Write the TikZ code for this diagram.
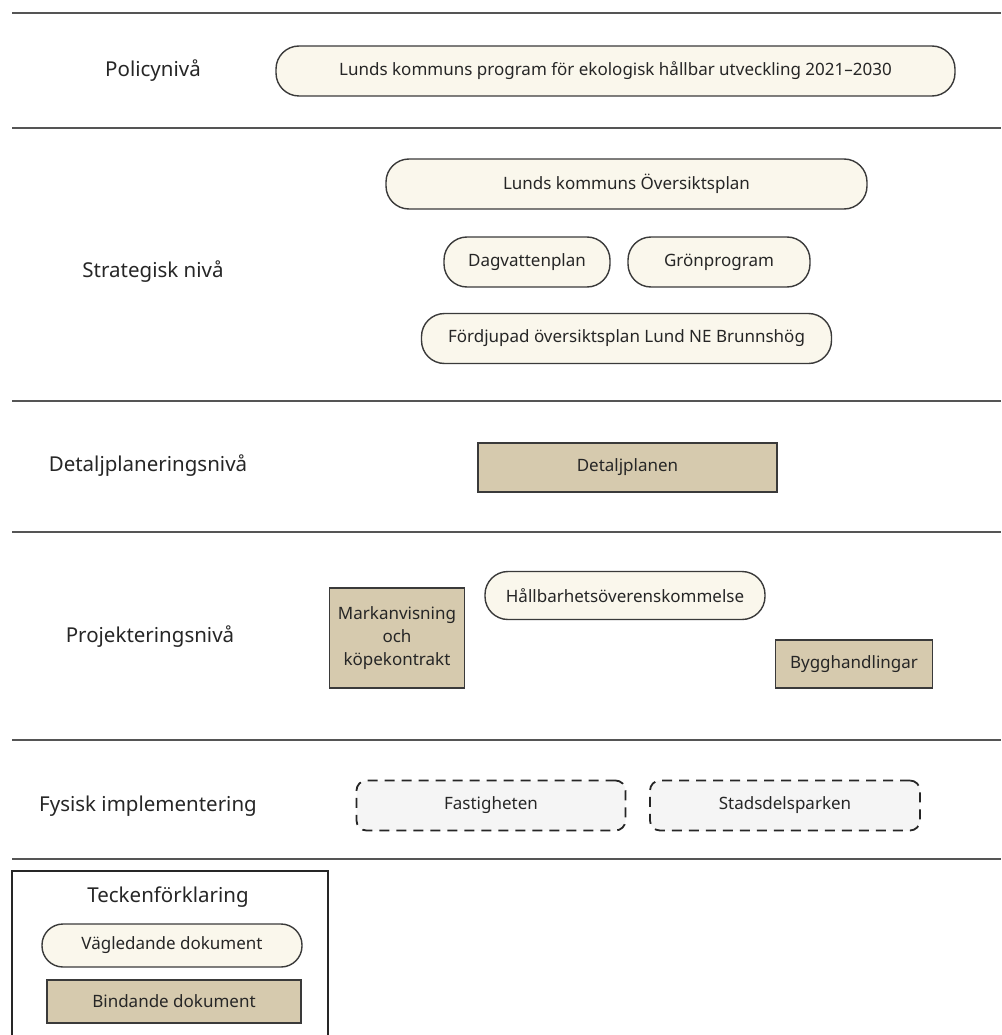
\documentclass[tikz,border=0pt]{standalone}
\usepackage{fontspec}
\setmainfont{Noto Sans}
\definecolor{pillfill}{HTML}{FAF7EC}
\definecolor{bindfill}{HTML}{D6CAAE}
\definecolor{physfill}{HTML}{F5F5F5}
\definecolor{linecol}{HTML}{3A3A3A}
\definecolor{sepcol}{HTML}{555555}
\begin{document}
\begin{tikzpicture}[x=1pt,y=-1pt,
  every node/.style={font=\fontsize{17}{21}\selectfont, text=black!85, inner sep=0pt},
  pill/.style={draw=linecol, line width=1.4pt, fill=pillfill, rounded corners=23pt},
  bindbox/.style={draw=linecol, line width=1.4pt, fill=bindfill},
  physbox/.style={draw=black!85, line width=1.8pt, fill=physfill, rounded corners=10pt, dash pattern=on 10pt off 7pt},
  lvl/.style={font=\fontsize{20.5}{24}\selectfont},
  sep/.style={draw=sepcol, line width=2pt}]
\useasboundingbox (0,0) rectangle (1001,1035);
% separators
\coordinate (s1a) at (12,13);  \coordinate (s1b) at (1001,13);
\coordinate (s2a) at (12,128); \coordinate (s2b) at (1001,128);
\coordinate (s3a) at (12,401); \coordinate (s3b) at (1001,401);
\coordinate (s4a) at (12,532); \coordinate (s4b) at (1001,532);
\coordinate (s5a) at (12,740); \coordinate (s5b) at (1001,740);
\coordinate (s6a) at (12,859); \coordinate (s6b) at (1001,859);
\foreach \i in {1,...,6} \draw[sep] (s\i a) -- (s\i b);
% level labels
\node[lvl] (l1) at (153,71) {Policynivå};
\node[lvl] (l2) at (153,272) {Strategisk nivå};
\node[lvl] (l3) at (148,466) {Detaljplaneringsnivå};
\node[lvl] (l4) at (150,637) {Projekteringsnivå};
\node[lvl] (l5) at (148,806) {Fysisk implementering};
% policy
\node[pill, minimum width=679, minimum height=50] (pol) at (615.5,71) {Lunds kommuns program för ekologisk hållbar utveckling 2021–2030};
% strategic
\node[pill, minimum width=481, minimum height=50] (op) at (626.5,184) {Lunds kommuns Översiktsplan};
\node[pill, minimum width=166, minimum height=50] (dag) at (527,262) {Dagvattenplan};
\node[pill, minimum width=182, minimum height=50] (gron) at (719,262) {Grönprogram};
\node[pill, minimum width=410, minimum height=50] (fop) at (626.5,338.5) {Fördjupad översiktsplan Lund NE Brunnshög};
% detail
\node[bindbox, minimum width=299, minimum height=49] (dp) at (627.5,467.5) {Detaljplanen};
% projektering
\node[bindbox, minimum width=135, minimum height=100, align=center, font=\fontsize{17}{23}\selectfont] (mark) at (397,638) {Markanvisning\\och\\köpekontrakt};
\node[pill, minimum width=280, minimum height=48] (hall) at (625,595.5) {Hållbarhetsöverenskommelse};
\node[bindbox, minimum width=157, minimum height=48] (bygg) at (854,664) {Bygghandlingar};
% physical
\node[physbox, minimum width=269, minimum height=50] (fast) at (491,805.5) {Fastigheten};
\node[physbox, minimum width=270, minimum height=50] (park) at (785,805.5) {Stadsdelsparken};
% legend
\draw[draw=black!85, line width=1.4pt] (12,1035) -- (12,871) -- (328,871) -- (328,1035);
\node[lvl] (legt) at (168,897) {Teckenförklaring};
\node[pill, minimum width=260, minimum height=43, rounded corners=21pt] (legp) at (172,945.5) {Vägledande dokument};
\node[bindbox, minimum width=254, minimum height=43] (legb) at (174,1001.5) {Bindande dokument};
\end{tikzpicture}
\end{document}
